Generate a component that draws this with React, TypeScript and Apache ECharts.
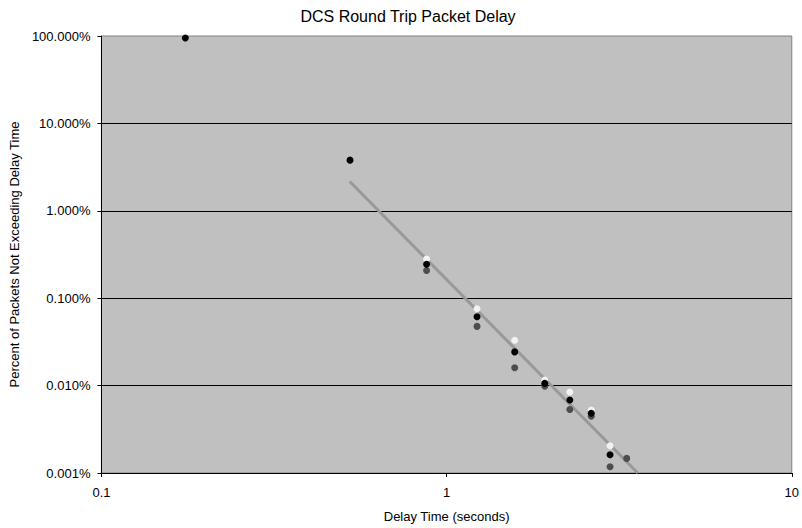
import React, { useEffect, useRef } from "react";
import * as echarts from "echarts";

const delays = [0.175, 0.525, 0.875, 1.225, 1.575, 1.925, 2.275, 2.625, 2.975, 3.325];
const blackPct = [95, 3.8, 0.244, 0.0614, 0.0243, 0.0106, 0.00684, 0.00483, 0.00162, null];
const whitePct = [null, null, 0.281, 0.0757, 0.033, 0.01155, 0.00843, 0.00526, 0.00205, null];
const darkPct = [null, null, 0.207, 0.0476, 0.016, 0.00987, 0.00532, 0.00446, 0.00118, 0.00147];
const trendX = [0.524, 3.58];
const trendY = [2.16, 0.001];

const FONT = "Liberation Sans, Arial, sans-serif";

function pairs(xs: number[], ys: (number | null)[]) {
  const out: number[][] = [];
  xs.forEach((x, i) => {
    const y = ys[i];
    if (y !== null && y !== undefined) out.push([x, y]);
  });
  return out;
}

export default function App() {
  const ref = useRef<HTMLDivElement>(null);
  useEffect(() => {
    if (!ref.current) return;
    const chart = echarts.init(ref.current, undefined, { renderer: "svg" });
    chart.setOption({
      animation: false,
      title: {
        text: "DCS Round Trip Packet Delay",
        left: 403,
        textAlign: "center",
        top: 3,
        textStyle: { fontSize: 16, fontWeight: "normal", color: "#000", fontFamily: FONT },
      },
      grid: {
        left: 99,
        right: 8,
        top: 36,
        bottom: 53,
        show: true,
        backgroundColor: "#C0C0C0",
        borderColor: "#808080",
        borderWidth: 1,
      },
      xAxis: {
        type: "log",
        logBase: 10,
        min: 0.1,
        max: 10,
        name: "Delay Time (seconds)",
        nameLocation: "middle",
        nameGap: 37,
        nameTextStyle: { fontSize: 13, color: "#000", fontFamily: FONT },
        axisLine: { show: true, lineStyle: { color: "#000", width: 1 } },
        axisTick: { show: true, length: 4, lineStyle: { color: "#000" } },
        minorTick: { show: false },
        splitLine: { show: false },
        axisLabel: {
          margin: 13,
          fontSize: 13,
          color: "#000",
          fontFamily: FONT,
          formatter: (v: number) => String(Number(v.toPrecision(6))),
        },
      },
      yAxis: {
        type: "log",
        logBase: 10,
        min: 0.001,
        max: 100,
        name: "Percent of Packets Not Exceeding Delay Time",
        nameLocation: "middle",
        nameGap: 80,
        nameTextStyle: { fontSize: 13, color: "#000", fontFamily: FONT },
        axisLine: { show: true, lineStyle: { color: "#000", width: 1 } },
        axisTick: { show: true, length: 4, lineStyle: { color: "#000" } },
        splitLine: { show: true, showMaxLine: false, lineStyle: { color: "#000", width: 1 } },
        axisLabel: {
          margin: 11,
          fontSize: 13,
          color: "#000",
          fontFamily: FONT,
          formatter: (v: number) => Number(v.toPrecision(6)).toFixed(3) + "%",
        },
      },
      series: [
        {
          type: "line",
          data: pairs(trendX, trendY),
          showSymbol: false,
          symbol: "none",
          lineStyle: { color: "#999999", width: 3 },
          z: 2,
          silent: true,
        },
        {
          type: "scatter",
          data: pairs(delays, whitePct),
          symbolSize: 7,
          itemStyle: { color: "#F2F2F2", opacity: 1 },
          z: 3,
        },
        {
          type: "scatter",
          data: pairs(delays, darkPct),
          symbolSize: 7,
          itemStyle: { color: "#4D4D4D", opacity: 1 },
          z: 3,
        },
        {
          type: "scatter",
          data: pairs(delays, blackPct),
          symbolSize: 7,
          itemStyle: { color: "#000000", opacity: 1 },
          z: 4,
        },
      ],
    });
    return () => chart.dispose();
  }, []);
  return (
    <div
      ref={ref}
      style={{ position: "fixed", left: 0, top: 0, width: 802, height: 528, background: "#fff" }}
    />
  );
}
